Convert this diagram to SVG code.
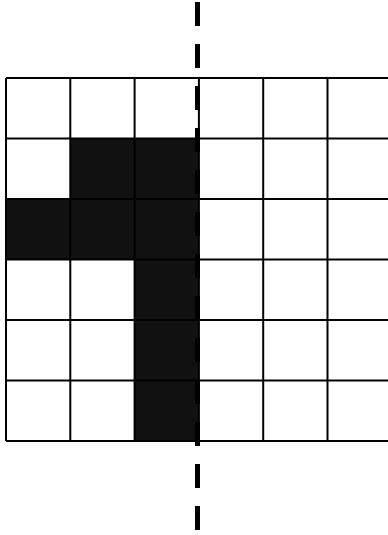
<svg xmlns="http://www.w3.org/2000/svg" width="388" height="535" viewBox="0 0 388 535">
<style>
.cell{fill:#111}
.grid{stroke:#000;stroke-width:2;fill:none}
.axis{stroke:#000;stroke-width:5;stroke-dasharray:24 18;fill:none}
</style>
<rect width="388" height="535" fill="#fff"/>
<g id="filled">
<rect class="cell" x="70.3" y="138.5" width="128.6" height="60.5"/>
<rect class="cell" x="6" y="199" width="192.9" height="60.5"/>
<rect class="cell" x="134.6" y="259.5" width="64.3" height="181.5"/>
</g>
<g id="grid">
<path class="grid" d="M6 78H392M6 138.5H392M6 199H392M6 259.5H392M6 320H392M6 380.5H392M6 441H392"/>
<path class="grid" d="M6 78V441M70.3 78V441M134.6 78V441M198.9 78V441M263.2 78V441M327.5 78V441M391.8 78V441"/>
</g>
<g id="axis">
<path class="axis" d="M197.5 2V535"/>
</g>
</svg>
